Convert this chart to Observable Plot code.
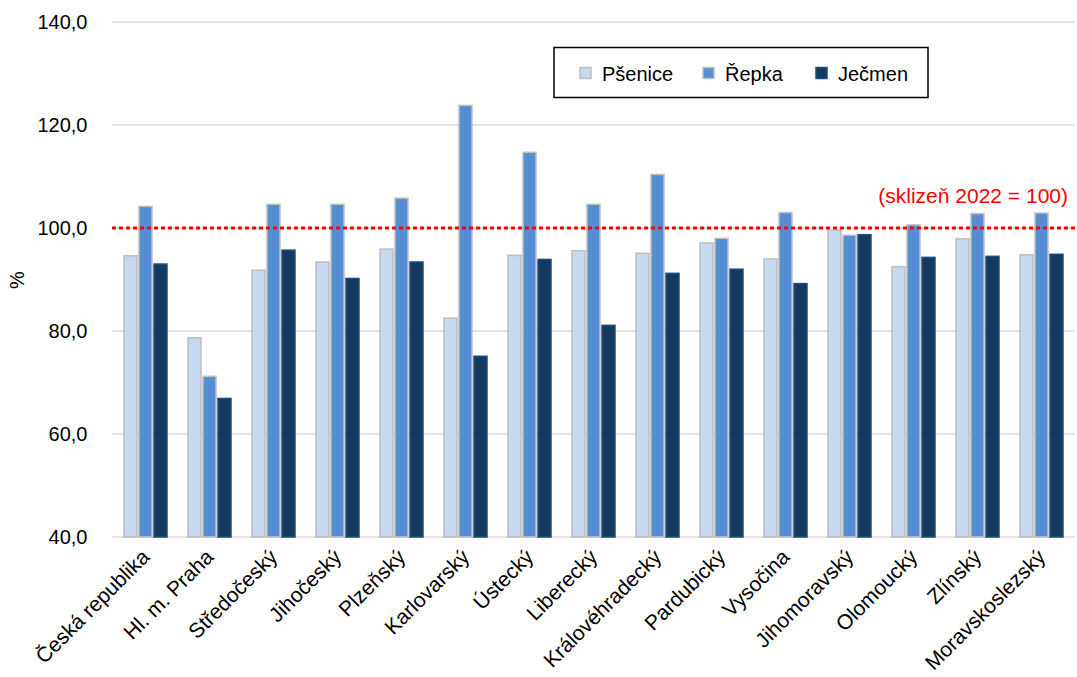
<!DOCTYPE html>
<html><head><meta charset="utf-8">
<script src="https://cdn.jsdelivr.net/npm/d3@7"></script>
<script src="https://cdn.jsdelivr.net/npm/@observablehq/plot@0.6"></script>
<style>body{margin:0;background:#fff;}</style>
</head><body><div id="chart"></div>
<script>
const regions = ["Česká republika","Hl. m. Praha","Středočeský","Jihočeský","Plzeňský","Karlovarský","Ústecký","Liberecký","Královéhradecký","Pardubický","Vysočina","Jihomoravský","Olomoucký","Zlínský","Moravskoslezský"];
const series = ["Pšenice","Řepka","Ječmen"];
const psenice = [94.6, 78.7, 91.8, 93.4, 95.9, 82.5, 94.7, 95.6, 95.1, 97.1, 94.0, 99.6, 92.5, 97.9, 94.8];
const repka   = [104.2, 71.2, 104.6, 104.6, 105.8, 123.8, 114.7, 104.6, 110.4, 98.0, 103.0, 98.6, 100.6, 102.8, 102.9];
const jecmen  = [93.0, 66.9, 95.7, 90.2, 93.4, 75.1, 93.9, 81.1, 91.2, 92.0, 89.2, 98.7, 94.3, 94.5, 94.9];
const yTicks = [40, 60, 80, 100, 120, 140];
const baseValue = 100;
const baseLabel = "(sklizeň 2022 = 100)";
const fills = ["#c6d9f1", "#558ed5", "#17375e"];
const strokes = ["#bfbfbf", "#bfbfbf", "#1c4f7c"];

const valuesBySeries = [psenice, repka, jecmen];
const rows = regions.flatMap((r, i) => series.map((s, j) => ({region: r, series: s, value: valuesBySeries[j][i]})));

const W = 1077, H = 677, ML = 112, MR = 2, MT = 22, MB = 140;
const font = "'Liberation Sans', Arial, sans-serif";

const chart = Plot.plot({
  width: W, height: H,
  marginLeft: ML, marginRight: MR, marginTop: MT, marginBottom: MB,
  style: {fontFamily: font, fontSize: "20px", color: "#000", background: "#fff", overflow: "visible"},
  fx: {domain: regions, paddingInner: 0.3, paddingOuter: 0.15, label: null, tickRotate: -45, tickSize: 0, tickPadding: 16},
  x: {domain: series, paddingInner: 0.12, paddingOuter: 0, axis: null},
  y: {domain: [yTicks[0], yTicks[yTicks.length - 1]], ticks: yTicks, tickFormat: d => d.toFixed(1).replace(".", ","), tickSize: 0, tickPadding: 36, label: "%", labelAnchor: "center", labelOffset: 114, labelArrow: false},
  marks: series.map((s, j) => Plot.barY(rows.filter(d => d.series === s), {
    fx: "region", x: "series", y1: yTicks[0], y2: "value",
    fill: fills[j], stroke: strokes[j], strokeWidth: 1.5
  }))
});

const svg = d3.select(chart);
// larger rotated category labels
svg.selectAll("[aria-label='fx-axis tick label'] text, g[aria-label='fx-axis tick label'] text").style("font-size", "21px");

const y = chart.scale("y");
// gridlines behind bars
const grid = svg.insert("g", "g");
grid.selectAll("line").data(yTicks).join("line")
  .attr("x1", ML).attr("x2", W - MR)
  .attr("y1", d => y.apply(d)).attr("y2", d => y.apply(d))
  .attr("stroke", "#d9d9d9").attr("stroke-width", 1.5);

// reference line
svg.append("line")
  .attr("x1", ML).attr("x2", W - MR)
  .attr("y1", y.apply(baseValue)).attr("y2", y.apply(baseValue))
  .attr("stroke", "#ff0000").attr("stroke-width", 3).attr("stroke-dasharray", "4,3");
svg.append("text")
  .attr("x", 1068).attr("y", y.apply(baseValue) - 25)
  .attr("text-anchor", "end").attr("fill", "#ff0000")
  .style("font-family", font).style("font-size", "21px")
  .text(baseLabel);

// legend
const lg = svg.append("g").attr("text-anchor", "start");
lg.append("rect").attr("x", 554).attr("y", 47.5).attr("width", 374).attr("height", 50)
  .attr("fill", "#fff").attr("stroke", "#000").attr("stroke-width", 1.5);
const lx = [580, 703, 816];
series.forEach((s, j) => {
  lg.append("rect").attr("x", lx[j]).attr("y", 67.5).attr("width", 11).attr("height", 11)
    .attr("fill", fills[j]).attr("stroke", strokes[j]).attr("stroke-width", 1.5);
  lg.append("text").attr("x", lx[j] + 22).attr("y", 80.5).attr("text-anchor", "start")
    .style("font-family", font).style("font-size", "20px").attr("fill", "#000").text(s);
});

document.getElementById("chart").appendChild(chart);
</script>
</body></html>
